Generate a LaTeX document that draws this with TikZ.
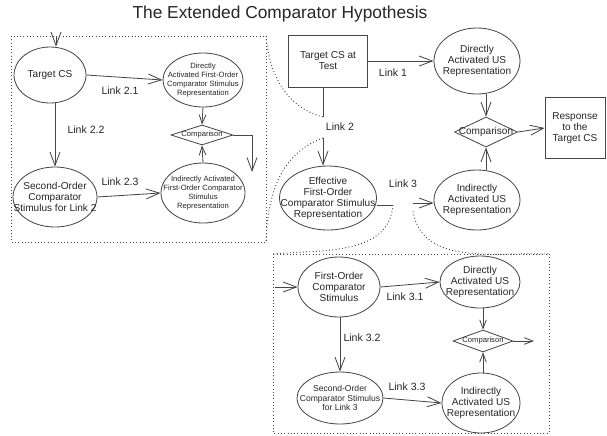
\documentclass[tikz,border=0pt]{standalone}
\usepackage{fontspec}
\setmainfont{Liberation Sans}
\usetikzlibrary{shapes.geometric, arrows.meta}
\definecolor{linegray}{RGB}{70,70,70}
\newcommand{\nfont}{\fontsize{8.6}{9.4}\selectfont}
\newcommand{\mfont}{\fontsize{7.3}{8.2}\selectfont}
\newcommand{\sfont}{\fontsize{6.5}{7.6}\selectfont}
\tikzstyle{ellnode} = [ellipse, draw=linegray, line width=0.7pt, inner sep=0pt]
\tikzstyle{boxnode} = [rectangle, draw=linegray, line width=0.7pt, align=center, font=\nfont]
\tikzstyle{compare} = [diamond, draw=linegray, line width=0.7pt, inner sep=0pt]
\tikzstyle{ntext} = [align=center, font=\nfont]
\tikzstyle{mtext} = [align=center, font=\mfont]
\tikzstyle{stext} = [align=center, font=\sfont]
\tikzstyle{linklabel} = [font=\fontsize{9}{10}\selectfont]
\tikzstyle{arrow} = [line width=0.7pt, draw=linegray, ->, >={Straight Barb[length=4mm,width=3mm]}]
\tikzstyle{arrowsm} = [line width=0.7pt, draw=linegray, ->, >={Straight Barb[length=2.6mm,width=2mm]}]
\tikzstyle{inset} = [draw=linegray, line width=0.8pt, dotted]

\begin{document}
\begin{tikzpicture}[x=0.03cm, y=-0.03cm, text=black!85]
            \useasboundingbox (0,0) rectangle (607,435);
            \node [font=\fontsize{14.8}{16}\selectfont] at (280,14) (title) {The Extended Comparator Hypothesis};
            \draw [inset] (11,36) rectangle (266,242);
            \draw [inset] (273,254) rectangle (549,433);
            \node [ellnode, minimum width=2.16cm, minimum height=1.68cm, label={[ntext]center:Target CS}] at (50,75) (tcs) {};
            \node [ellnode, minimum width=2.4cm, minimum height=1.62cm, label={[stext]center:Directly\\Activated First-Order\\Comparator Stimulus\\Representation}] at (203,80) (da1) {};
            \node [compare, minimum width=1.86cm, minimum height=0.6cm, label={[stext]center:Comparison}] at (202,135) (cmp1) {};
            \node [ellnode, minimum width=2.52cm, minimum height=1.8cm, label={[stext]center:Indirectly Activated\\First-Order Comparator\\Stimulus\\Representation}] at (203,193) (ia1) {};
            \node [ellnode, minimum width=2.52cm, minimum height=1.8cm, label={[ntext]center:Second-Order\\Comparator\\Stimulus for Link 2}] at (55,197) (so2) {};
            \node [linklabel] at (120,91) (l21) {Link 2.1};
            \node [linklabel] at (86,130) (l22) {Link 2.2};
            \node [linklabel] at (120,182) (l23) {Link 2.3};
            \coordinate (in2) at (56,36);
            \coordinate (out2) at (252,172);
            \node [boxnode, minimum width=2.37cm, minimum height=1.56cm] at (328,61) (tct) {Target CS at\\Test};
            \node [ellnode, minimum width=2.58cm, minimum height=1.98cm, label={[ntext]center:Directly\\Activated US\\Representation}] at (477,61) (dus) {};
            \node [compare, minimum width=1.89cm, minimum height=0.9cm, label={[ntext]center:Comparison}] at (486,132) (cmp) {};
            \node [boxnode, minimum width=1.8cm, minimum height=1.83cm] at (575,128) (rsp) {Response\\to the\\Target CS};
            \node [ellnode, minimum width=2.58cm, minimum height=1.8cm, label={[ntext]center:Indirectly\\Activated US\\Representation}] at (477,200) (ius) {};
            \node [ellnode, minimum width=2.91cm, minimum height=1.92cm, label={[ntext]center:Effective\\First-Order\\Comparator Stimulus\\Representation}] at (328,198) (eff) {};
            \node [linklabel] at (393,73) (l1) {Link 1};
            \node [linklabel] at (340,127) (l2) {Link 2};
            \node [linklabel] at (403,184) (l3) {Link 3};
            \coordinate (l2a) at (323,117);
            \coordinate (l2b) at (323,138);
            \coordinate (l3a) at (393,205);
            \coordinate (l3b) at (413,203);
            \node [ellnode, minimum width=2.46cm, minimum height=1.8cm, label={[ntext]center:First-Order\\Comparator\\Stimulus}] at (339,287) (foc) {};
            \node [ellnode, minimum width=2.4cm, minimum height=1.56cm, label={[ntext]center:Directly\\Activated US\\Representation}] at (480,282) (dus3) {};
            \node [compare, minimum width=1.8cm, minimum height=0.66cm, label={[stext]center:Comparison}] at (483,341) (cmp3) {};
            \node [ellnode, minimum width=2.34cm, minimum height=1.8cm, label={[ntext]center:Indirectly\\Activated US\\Representation}] at (481,403) (ius3) {};
            \node [ellnode, minimum width=2.58cm, minimum height=1.56cm, label={[mtext]center:Second-Order\\Comparator Stimulus\\for Link 3}] at (340,398) (so3) {};
            \node [linklabel] at (405,297) (l31) {Link 3.1};
            \node [linklabel] at (362,338) (l32) {Link 3.2};
            \node [linklabel] at (407,387) (l33) {Link 3.3};
            \coordinate (in3) at (275,287);
            \coordinate (out3) at (534,341);
            \draw [arrow] (in2) -- (in2 |- tcs.north);
            \draw [arrow] (tcs.east) -- (da1.west);
            \draw [arrow] (tcs.south -| so2.north) -- (so2.north);
            \draw [arrow] (so2.east) -- (ia1.west);
            \draw [arrowsm] (da1.south) -- (cmp1.north);
            \draw [arrowsm] (ia1.north) -- (cmp1.south);
            \draw [arrow] (cmp1.east) -| (out2);
            \draw [arrow] (tct.east) -- (dus.west);
            \draw [arrow] (dus.south -| cmp.north) -- (cmp.north);
            \draw [arrow] (ius.north -| cmp.south) -- (cmp.south);
            \draw [arrow] (cmp.east) -- (rsp.west);
            \draw [line width=0.7pt, draw=linegray] (tct.south -| l2a) -- (l2a);
            \draw [arrow] (l2b) -- (l2b |- eff.north);
            \draw [line width=0.7pt, draw=linegray] (l3a -| eff.east) -- (l3a);
            \draw [arrow] (l3b) -- (l3b -| ius.west);
            \draw [arrow] (in3) -- (foc.west);
            \draw [arrow] (foc.east) -- (dus3.west);
            \draw [arrow] (foc.south -| so3.north) -- (so3.north);
            \draw [arrow] (so3.east) -- (ius3.west);
            \draw [arrowsm] (dus3.south -| cmp3.north) -- (cmp3.north);
            \draw [arrowsm] (ius3.north -| cmp3.south) -- (cmp3.south);
            \draw [arrowsm] (cmp3.east) -- (out3);
            \draw [inset] (266,36) to[out=-85, in=165] (l2a);
            \draw [inset] (l2b) to[out=200, in=88] (266,242);
            \draw [inset] (l3a) to[out=-95, in=5] (273,254);
            \draw [inset] ([yshift=-0.25cm]l3b) to[out=-80, in=178] (549,254);
            \end{tikzpicture}
\end{document}
